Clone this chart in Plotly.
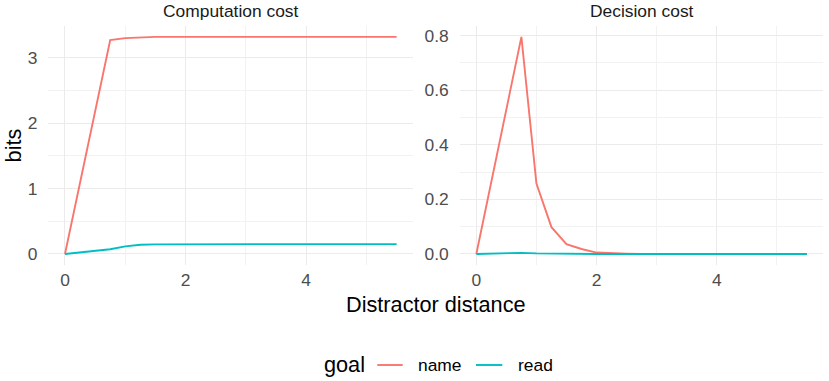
import plotly.graph_objects as go

distance = [0, 0.75, 1.0, 1.25, 1.5, 1.75, 2.0, 2.25, 2.5, 2.75, 3.0, 3.25, 3.5, 3.75,
            4.0, 4.25, 4.5, 4.75, 5.0, 5.25, 5.5]

comp_name = [0, 3.27, 3.30, 3.315, 3.32, 3.32, 3.32, 3.32, 3.32, 3.32, 3.32, 3.32, 3.32, 3.32,
             3.32, 3.32, 3.32, 3.32, 3.32, 3.32, 3.32]
comp_read = [0, 0.072, 0.115, 0.140, 0.147, 0.149, 0.150, 0.150, 0.150, 0.150, 0.150, 0.150,
             0.150, 0.150, 0.150, 0.150, 0.150, 0.150, 0.150, 0.150, 0.150]

dec_name = [0, 0.795, 0.258, 0.098, 0.036, 0.018, 0.005, 0.002, 0.001, 0, 0, 0, 0, 0,
            0, 0, 0, 0, 0, 0, 0]
dec_read = [0, 0.004, 0.002, 0.001, 0, 0, 0, 0, 0, 0, 0, 0, 0, 0,
            0, 0, 0, 0, 0, 0, 0]

panel_titles = ["Computation cost", "Decision cost"]
goals = ["name", "read"]
colors = {"name": "#F8766D", "read": "#00BFC4"}

FONT = "Liberation Sans, Arial, sans-serif"
W, H = 829, 381

def px_x(p):
    return p / W

def px_y(p):
    return 1 - p / H

LW = 1.9
fig = go.Figure()
panels = [("x", "y", comp_name, comp_read), ("x2", "y2", dec_name, dec_read)]
for xa_name, ya_name, s_name, s_read in panels:
    for g, vals in zip(goals, [s_name, s_read]):
        fig.add_trace(go.Scatter(x=distance, y=vals, mode="lines", name=g, showlegend=False,
                                 line=dict(color=colors[g], width=LW),
                                 xaxis=xa_name, yaxis=ya_name))

grid = "#EBEBEB"
minor_grid = "#F2F2F2"
TICK = 17.4
TITLE = 21.7
tickfont = dict(family=FONT, size=TICK, color="#4D4D4D")

xa = dict(range=[-0.275, 5.775], dtick=2, tick0=0, showgrid=True, gridcolor=grid, gridwidth=1.1,
          zeroline=False, showline=False, ticks="", tickfont=tickfont, automargin=False,
          ticklabelstandoff=3,
          minor=dict(dtick=1, tick0=0, showgrid=True, gridcolor=minor_grid, gridwidth=0.6))
ya1 = dict(range=[-0.166, 3.486], dtick=1, tick0=0, showgrid=True, gridcolor=grid, gridwidth=1.1,
           zeroline=False, showline=False, ticks="", tickfont=tickfont, automargin=False,
           ticklabelstandoff=10,
           minor=dict(dtick=0.5, tick0=0, showgrid=True, gridcolor=minor_grid, gridwidth=0.6))
ya2 = dict(range=[-0.0398, 0.835], dtick=0.2, tick0=0, tickformat=".1f", showgrid=True,
           gridcolor=grid, gridwidth=1.1, zeroline=False, showline=False, ticks="",
           tickfont=tickfont, automargin=False, ticklabelstandoff=10,
           minor=dict(dtick=0.1, tick0=0, showgrid=True, gridcolor=minor_grid, gridwidth=0.6))

L1, R1, L2, R2 = 48.4, 413.2, 459.8, 823.4
TOP, BOT = 26.0, 264.8
ydom = [px_y(BOT), px_y(TOP)]
fig.update_layout(
    width=W, height=H,
    margin=dict(l=0, r=0, t=0, b=0, autoexpand=False),
    paper_bgcolor="white", plot_bgcolor="white",
    font=dict(family=FONT, color="black"),
    xaxis=dict(xa, domain=[px_x(L1), px_x(R1)], anchor="y"),
    yaxis=dict(ya1, domain=ydom, anchor="x"),
    xaxis2=dict(xa, domain=[px_x(L2), px_x(R2)], anchor="y2"),
    yaxis2=dict(ya2, domain=ydom, anchor="x2"),
    showlegend=False,
)

def ann(text, x, y, size, color="black", xanchor="center", angle=0):
    fig.add_annotation(text=text, x=px_x(x), y=px_y(y), xref="paper", yref="paper",
                       showarrow=False, xanchor=xanchor, yanchor="middle", textangle=angle,
                       font=dict(family=FONT, size=size, color=color))

ann("bits", 13, (TOP + BOT) / 2, TITLE, angle=-90)
ann(panel_titles[0], (L1 + R1) / 2, 11, TICK, color="#1A1A1A")
ann(panel_titles[1], (L2 + R2) / 2, 11, TICK, color="#1A1A1A")
ann("Distractor distance", (L1 + R2) / 2, 304, TITLE)

# legend drawn by hand to match the ggplot layout
LEG_Y = 365
ann("goal", 321.5, LEG_Y - 1, TITLE, xanchor="left")
key_x = {"name": (377.3, 402.7, 416.3), "read": (476.0, 502.3, 515.7)}
for g in goals:
    x0, x1, tx = key_x[g]
    fig.add_shape(type="line", xref="paper", yref="paper", x0=px_x(x0), x1=px_x(x1),
                  y0=px_y(LEG_Y), y1=px_y(LEG_Y), line=dict(color=colors[g], width=LW))
    ann(g, tx, LEG_Y, TICK, xanchor="left")

fig.write_html("out.html", config={"displayModeBar": False},
               post_script="document.body.style.margin='0';document.body.style.overflow='hidden';")
